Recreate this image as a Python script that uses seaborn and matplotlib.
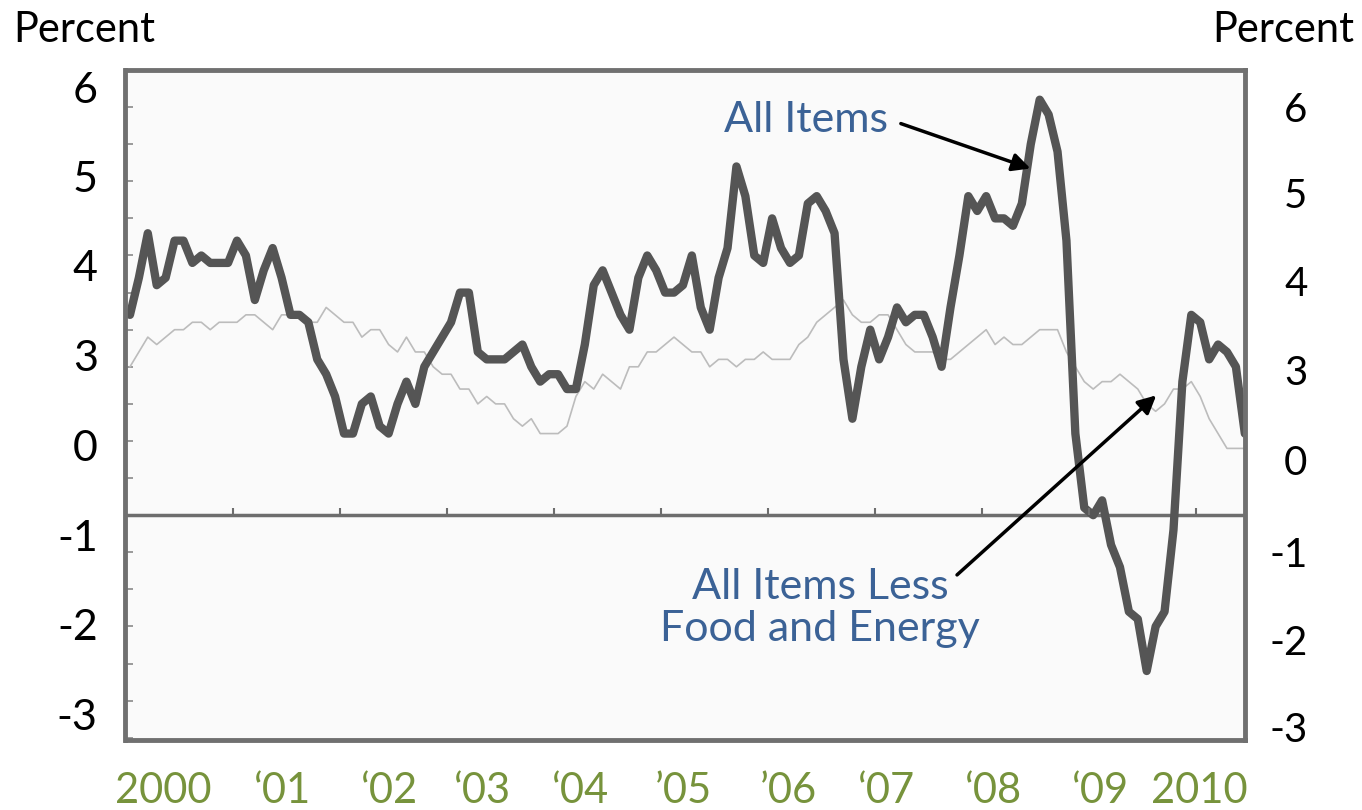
import numpy as np
import pandas as pd
import seaborn as sns
import matplotlib.pyplot as plt
from matplotlib.ticker import MultipleLocator

# -------------------------
# DATA: CPI, 12-month percent change, Jan 2000 - Jun 2010
# -------------------------
all_items = [
    2.7, 3.2, 3.8, 3.1, 3.2, 3.7, 3.7, 3.4, 3.5, 3.4, 3.4, 3.4,
    3.7, 3.5, 2.9, 3.3, 3.6, 3.2, 2.7, 2.7, 2.6, 2.1, 1.9, 1.6,
    1.1, 1.1, 1.5, 1.6, 1.2, 1.1, 1.5, 1.8, 1.5, 2.0, 2.2, 2.4,
    2.6, 3.0, 3.0, 2.2, 2.1, 2.1, 2.1, 2.2, 2.3, 2.0, 1.8, 1.9,
    1.9, 1.7, 1.7, 2.3, 3.1, 3.3, 3.0, 2.7, 2.5, 3.2, 3.5, 3.3,
    3.0, 3.0, 3.1, 3.5, 2.8, 2.5, 3.2, 3.6, 4.7, 4.3, 3.5, 3.4,
    4.0, 3.6, 3.4, 3.5, 4.2, 4.3, 4.1, 3.8, 2.1, 1.3, 2.0, 2.5,
    2.1, 2.4, 2.8, 2.6, 2.7, 2.7, 2.4, 2.0, 2.8, 3.5, 4.3, 4.1,
    4.3, 4.0, 4.0, 3.9, 4.2, 5.0, 5.6, 5.4, 4.9, 3.7, 1.1, 0.1,
    0.0, 0.2, -0.4, -0.7, -1.3, -1.4, -2.1, -1.5, -1.3, -0.2, 1.8, 2.7,
    2.6, 2.1, 2.3, 2.2, 2.0, 1.1,
]
core = [
    2.0, 2.2, 2.4, 2.3, 2.4, 2.5, 2.5, 2.6, 2.6, 2.5, 2.6, 2.6,
    2.6, 2.7, 2.7, 2.6, 2.5, 2.7, 2.7, 2.7, 2.6, 2.6, 2.8, 2.7,
    2.6, 2.6, 2.4, 2.5, 2.5, 2.3, 2.2, 2.4, 2.2, 2.2, 2.0, 1.9,
    1.9, 1.7, 1.7, 1.5, 1.6, 1.5, 1.5, 1.3, 1.2, 1.3, 1.1, 1.1,
    1.1, 1.2, 1.6, 1.8, 1.7, 1.9, 1.8, 1.7, 2.0, 2.0, 2.2, 2.2,
    2.3, 2.4, 2.3, 2.2, 2.2, 2.0, 2.1, 2.1, 2.0, 2.1, 2.1, 2.2,
    2.1, 2.1, 2.1, 2.3, 2.4, 2.6, 2.7, 2.8, 2.9, 2.7, 2.6, 2.6,
    2.7, 2.7, 2.5, 2.3, 2.2, 2.2, 2.2, 2.1, 2.1, 2.2, 2.3, 2.4,
    2.5, 2.3, 2.4, 2.3, 2.3, 2.4, 2.5, 2.5, 2.5, 2.2, 2.0, 1.8,
    1.7, 1.8, 1.8, 1.9, 1.8, 1.7, 1.5, 1.4, 1.5, 1.7, 1.7, 1.8,
    1.6, 1.3, 1.1, 0.9, 0.9, 0.9,
]

# labels as printed on the slide (they do not sit on the real gridlines)
left_labels = ["6", "5", "4", "3", "0", "-1", "-2", "-3"]
left_label_pos = [5.77, 4.56, 3.36, 2.15, 0.94, -0.27, -1.48, -2.68]
right_labels = ["6", "5", "4", "3", "0", "-1", "-2", "-3"]
right_label_pos = [5.50, 4.34, 3.15, 1.95, 0.74, -0.50, -1.68, -2.85]
year_labels = ["2000", "\u201801", "\u201802", "\u201803", "\u201804", "\u201905",
               "\u201906", "\u201807", "\u201808", "\u201809", "2010"]
year_label_pos = [2000.35, 2001.47, 2002.47, 2003.34, 2004.25, 2005.21,
                  2006.19, 2007.11, 2008.11, 2009.11, 2010.03]

dates = pd.date_range("2000-01-01", periods=len(all_items), freq="MS")
df = pd.DataFrame({
    "t": dates.year + (dates.month - 0.5) / 12,
    "all_items": all_items,
    "core": core,
})

# -------------------------
# STYLE
# -------------------------
sns.set_theme(style="white")
plt.rcParams["font.family"] = ["Lato", "DejaVu Sans"]

blue = "#3b6296"
green = "#77933c"

fig = plt.figure(figsize=(13.62, 8.1), dpi=100)
ax = fig.add_axes([125.5 / 1362, 1 - 740 / 810, 1119.5 / 1362, 670 / 810])
ax.set_facecolor("#fafafa")

sns.lineplot(data=df, x="t", y="core", ax=ax, color="#bcbcbc", linewidth=1.2)
sns.lineplot(data=df, x="t", y="all_items", ax=ax, color="#555555", linewidth=6,
             solid_joinstyle="round")

ax.axhline(0, color="#6d6d6d", linewidth=2.5, zorder=1)
ax.vlines(np.arange(2001, 2011), 0, 0.1, color="#6d6d6d", linewidth=1.5)

ax.set_xlim(2000.0, 2010.46)
ax.set_ylim(-3.03, 6.0)

for side in ["left", "right", "top", "bottom"]:
    ax.spines[side].set_visible(True)
    ax.spines[side].set_color("#707070")
    ax.spines[side].set_linewidth(3.5)

# x labels
ax.set_xticks(year_label_pos)
ax.set_xticklabels(year_labels, color=green, fontsize=30)
ax.tick_params(axis="x", length=0, pad=23)
ax.set_xlabel("")
ax.set_ylabel("")

# left labels + small inside ticks
ax.set_yticks(left_label_pos)
ax.set_yticklabels(left_labels, fontsize=31, color="black")
ax.tick_params(axis="y", which="major", length=0, pad=20)
ax.yaxis.set_minor_locator(MultipleLocator(0.5))
ax.tick_params(axis="y", which="minor", direction="in", length=6, width=1.2,
               color="#8a8a8a", left=True, right=True)

# right labels
ax2 = ax.twinx()
ax2.set_ylim(ax.get_ylim())
ax2.set_yticks(right_label_pos)
ax2.set_yticklabels(right_labels, fontsize=29, color="black", ha="right")
ax2.tick_params(axis="y", length=0, pad=45)
for side in ["left", "right", "top", "bottom"]:
    ax2.spines[side].set_visible(False)

fig.text(13 / 1362, 1 - 42 / 810, "Percent", fontsize=30, color="black", ha="left", va="baseline")
fig.text(1354 / 1362, 1 - 42 / 810, "Percent", fontsize=30, color="black", ha="right", va="baseline")

# annotations
ax.text(2006.36, 5.33, "All Items", color=blue, fontsize=31, ha="center", va="center")
ax.annotate("", xy=(2008.48, 4.66), xytext=(2007.22, 5.29),
            arrowprops=dict(arrowstyle="-|>,head_length=0.9,head_width=0.45",
                            color="black", lw=2.5))
ax.text(2006.49, -1.25, "All Items Less\nFood and Energy", color=blue, fontsize=31,
        ha="center", va="center", linespacing=1.15)
ax.annotate("", xy=(2009.65, 1.64), xytext=(2007.75, -0.83),
            arrowprops=dict(arrowstyle="-|>,head_length=0.9,head_width=0.45",
                            color="black", lw=2.5))

plt.savefig("out.png", dpi=100)
